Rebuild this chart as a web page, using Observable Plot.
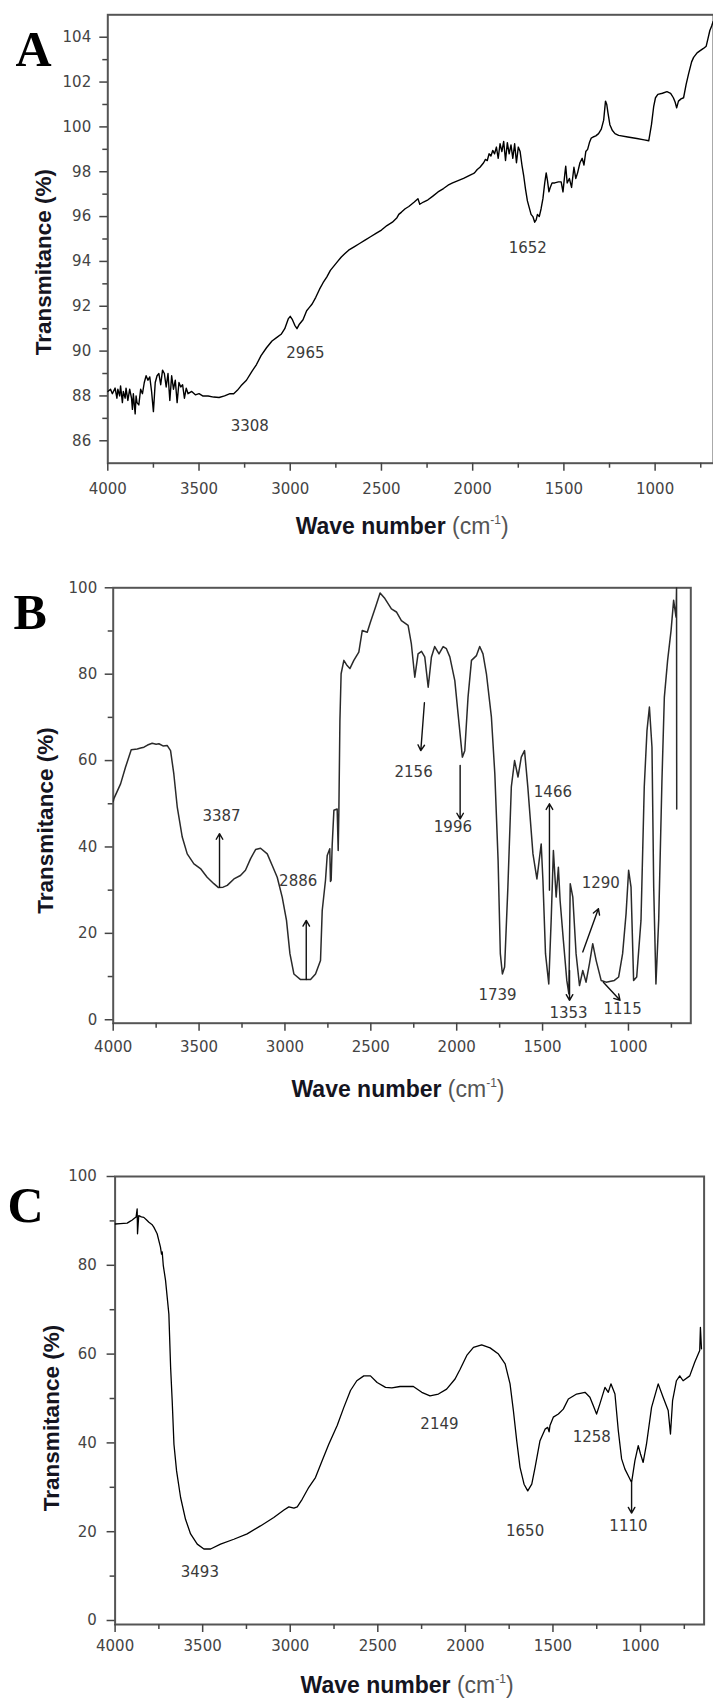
<!DOCTYPE html>
<html><head><meta charset="utf-8">
<script src="https://cdn.jsdelivr.net/npm/d3@7"></script>
<script src="https://cdn.jsdelivr.net/npm/@observablehq/plot@0.6"></script>
<style>
html,body{margin:0;padding:0;background:#fff;width:713px;height:1699px;overflow:hidden;}
#chart svg{display:block;}
</style></head><body><div id="chart"></div>
<script>
// ---------- Panel A ----------
const aWave = [4000,3985,3975,3960,3950,3945,3935,3930,3920,3915,3905,3900,3890,3880,3870,3865,3860,3850,3845,3840,3830,3820,3810,3800,3790,3780,3770,3760,3750,3740,3730,3720,3710,3700,3690,3680,3670,3660,3650,3640,3630,3620,3610,3600,3590,3580,3570,3560,3540,3520,3500,3480,3450,3420,3390,3360,3330,3310,3290,3270,3240,3210,3185,3160,3130,3100,3075,3050,3030,3010,3000,2988,2975,2963,2950,2930,2910,2895,2880,2860,2840,2820,2800,2780,2760,2740,2720,2700,2680,2650,2620,2590,2560,2530,2500,2470,2440,2415,2405,2390,2370,2350,2320,2300,2290,2270,2245,2220,2190,2160,2135,2110,2080,2050,2025,2000,1990,1975,1960,1950,1940,1930,1920,1910,1900,1890,1880,1870,1860,1850,1840,1830,1820,1810,1800,1790,1780,1770,1760,1750,1740,1730,1720,1710,1700,1690,1680,1670,1660,1652,1645,1635,1625,1615,1605,1597,1590,1582,1575,1565,1550,1530,1515,1505,1495,1490,1482,1470,1458,1445,1435,1425,1412,1400,1390,1380,1370,1360,1350,1340,1325,1310,1295,1282,1272,1265,1258,1248,1235,1220,1200,1150,1100,1060,1035,1020,1008,998,985,960,935,915,900,890,882,872,858,844,830,817,800,789,770,753,735,720,710,700,690,682];
const aTrans = [88.2,88.3,88.1,88.35,87.9,88.3,88.0,88.45,87.7,88.2,87.9,88.35,87.8,88.3,87.9,87.4,88.1,87.2,88.0,87.7,87.6,88.3,88.1,88.6,88.9,88.7,88.85,88.2,87.3,88.6,88.9,89.0,88.5,89.15,89.0,88.4,89.0,87.8,88.9,88.3,88.7,87.7,88.6,88.4,88.5,87.9,88.35,88.1,88.2,88.05,88.1,88.0,88.0,87.95,87.93,88.0,88.1,88.1,88.25,88.45,88.7,89.1,89.4,89.8,90.15,90.45,90.6,90.75,91.0,91.45,91.55,91.4,91.15,91.0,91.2,91.4,91.8,91.95,92.1,92.4,92.75,93.05,93.3,93.6,93.8,94.0,94.2,94.35,94.5,94.65,94.8,94.95,95.1,95.25,95.4,95.6,95.75,95.95,96.1,96.2,96.35,96.45,96.65,96.8,96.55,96.65,96.75,96.9,97.1,97.25,97.4,97.5,97.6,97.7,97.8,97.9,97.95,98.1,98.2,98.3,98.4,98.55,98.5,98.8,98.7,98.95,98.8,99.1,98.6,99.25,98.9,99.35,98.5,99.3,98.8,99.2,98.6,99.25,98.4,99.1,98.9,98.3,97.8,97.2,96.7,96.4,96.1,96.0,95.75,95.85,96.1,96.0,96.35,96.8,97.5,97.95,97.6,97.1,97.3,97.5,97.5,97.55,97.55,97.1,97.9,98.25,97.5,97.7,97.3,98.2,97.7,97.95,98.4,98.6,98.3,98.9,99.0,99.3,99.5,99.55,99.6,99.7,99.9,100.3,101.15,101.0,100.6,100.1,99.85,99.7,99.62,99.55,99.48,99.42,99.38,100.1,100.9,101.3,101.45,101.5,101.57,101.5,101.3,101.1,100.85,101.15,101.25,101.3,101.9,102.35,102.9,103.1,103.3,103.4,103.5,103.6,103.95,104.3,104.5,104.7];
const aPeakText = ["3308","2965","1652"];
const aPeakWave = [3222,2917,1698];
const aPeakTrans = [86.67,89.9,94.6];
const aYMajor = [86,88,90,92,94,96,98,100,102,104];
const aYMinor = [87,89,91,93,95,97,99,101,103];

// ---------- Panel B ----------
const bWave = [4000,3996,3957,3928,3895,3860,3840,3821,3800,3773,3750,3734,3710,3686,3666,3647,3627,3598,3569,3530,3492,3453,3414,3387,3360,3336,3297,3259,3230,3200,3171,3142,3103,3074,3045,3016,2991,2971,2948,2909,2851,2822,2793,2783,2764,2754,2739,2735,2731,2725,2715,2696,2690,2686,2680,2673,2657,2638,2622,2599,2570,2550,2521,2502,2473,2446,2418,2380,2351,2322,2283,2264,2244,2225,2205,2186,2166,2147,2128,2103,2079,2060,2040,2011,1992,1967,1953,1934,1914,1885,1866,1847,1827,1798,1778,1759,1746,1734,1721,1702,1682,1663,1643,1624,1605,1586,1556,1533,1508,1498,1483,1464,1450,1437,1421,1408,1398,1379,1359,1347,1339,1324,1305,1285,1266,1247,1227,1208,1188,1159,1130,1082,1057,1034,1014,999,985,970,952,927,908,892,878,863,853,840,824,805,791,772,752,737,723,720,719];
const bTrans = [50.5,51.2,54.6,58.5,62.5,62.7,62.9,63.1,63.6,64.0,63.8,63.9,63.4,63.5,62.3,56.9,49.2,42.3,38.4,36.1,35.0,33.0,31.5,30.6,30.7,31.1,32.6,33.4,34.6,37.3,39.4,39.7,38.4,35.7,33.0,28.4,23.0,15.3,10.6,9.3,9.3,10.6,13.7,25.3,32.3,38.0,39.6,32.0,32.3,40.4,48.5,48.8,39.2,48.5,69.3,80.1,83.2,82.0,81.3,83.2,85.1,90.1,89.7,92.1,95.5,98.8,97.5,95.1,94.4,92.4,91.3,87.0,79.3,84.7,85.3,84.0,77.0,84.0,86.4,84.7,86.4,85.9,84.0,78.5,70.8,60.8,62.3,74.7,83.2,84.3,86.4,84.7,80.1,70.1,56.9,36.9,15.3,10.6,12.2,30.7,53.9,60.0,56.2,60.8,62.3,53.9,38.4,32.6,40.7,32.3,15.3,8.3,23.0,39.2,28.4,35.3,27.6,18.4,9.1,6.0,31.5,28.4,15.3,7.9,11.4,8.7,13.0,17.6,13.7,9.1,8.7,9.1,9.9,15.3,24.5,34.6,30.7,9.1,9.9,23.0,53.9,67.0,72.4,63.1,30.7,8.3,23.0,55.4,74.7,83.2,90.1,97.1,93.2,100,48.8];
const bPeakText = ["3387","2886","2156","1996","1739","1466","1353","1290","1115"];
const bPeakWave = [3369,2923,2251,2022,1762,1440,1349,1161,1034];
const bPeakTrans = [47.2,32.0,57.3,44.6,5.6,52.7,1.5,31.6,2.5];
const bArrowW1 = [3381,2876,2188,1980,1460,1343,1266,1146];
const bArrowT1 = [30.7,9.3,73.4,58.9,30.0,11.4,15.7,8.7];
const bArrowW2 = [3381,2876,2209,1980,1460,1343,1175,1049];
const bArrowT2 = [43.1,23.0,62.3,46.5,50.0,4.5,25.7,4.5];

// ---------- Panel C ----------
const cWave = [4000,3970,3931,3915,3902,3890,3880,3874,3872,3865,3850,3836,3820,3807,3790,3779,3760,3741,3735,3731,3725,3712,3693,3683,3674,3664,3649,3626,3598,3569,3531,3493,3455,3398,3322,3246,3170,3094,3036,3008,2979,2960,2932,2894,2856,2818,2780,2732,2694,2656,2620,2580,2542,2504,2456,2420,2373,2297,2249,2202,2154,2107,2059,2030,1992,1954,1907,1859,1811,1773,1745,1726,1707,1688,1665,1644,1621,1602,1574,1545,1530,1522,1517,1498,1469,1441,1412,1365,1317,1289,1270,1251,1232,1203,1184,1169,1146,1127,1108,1089,1070,1051,1032,1013,1000,985,966,937,899,871,842,829,817,795,776,757,719,690,662,658,652];
const cTrans = [89.3,89.4,89.5,89.9,90.2,90.6,90.9,92.7,87.1,91.2,90.9,90.8,90.2,89.7,89.2,88.6,87.1,84.1,82.5,83.0,80.0,76.6,69.0,57.0,49.5,39.7,33.7,27.7,22.8,19.5,17.2,16.1,16.1,17.2,18.3,19.5,21.3,23.2,24.9,25.6,25.3,25.6,27.3,30.0,32.2,36.0,39.7,43.9,48.0,51.8,54.0,55.1,55.1,53.6,52.5,52.4,52.7,52.7,51.4,50.6,51.0,52.1,54.4,56.6,59.7,61.5,62.1,61.4,60.0,57.8,53.3,47.3,40.5,34.5,30.7,29.2,30.7,34.5,40.5,43.1,43.5,42.5,43.9,45.8,46.5,47.6,49.9,51.0,51.4,50.3,48.4,46.5,48.8,52.5,51.4,53.3,51.0,42.8,36.4,34.1,32.6,31.1,36.0,39.4,37.5,35.6,39.7,48.0,53.3,50.3,47.3,42.0,49.5,54.0,55.1,54.0,55.1,58.2,60.8,66.0,61.2];
const cPeakText = ["3493","2149","1650","1258","1110"];
const cPeakWave = [3516,2148,1659,1278,1069];
const cPeakTrans = [10.8,44.3,20.2,41.2,21.3];
const cArrowW1 = [1051];
const cArrowT1 = [31.0];
const cArrowW2 = [1051];
const cArrowT2 = [24.2];

// ---------- shared ticks ----------
const xMajor = [4000,3500,3000,2500,2000,1500,1000];
const xMinor = [3750,3250,2750,2250,1750,1250,750];
const pctMajor = [0,20,40,60,80,100];
const pctMinor = [10,30,50,70,90];
const yTitle = "Transmitance (%)";
const xTitleMain = "Wave number";
const xTitleUnit = "(cm";
const xTitleSup = "-1";
const panelLetters = ["A","B","C"];

function zipLine(w, t) { return w.map((d, i) => ({w: d, t: t[i]})); }
function zipText(s, w, t) { return s.map((d, i) => ({s: d, w: w[i], t: t[i]})); }
function zipArrow(w1, t1, w2, t2) { return w1.map((d, i) => ({w1: d, t1: t1[i], w2: w2[i], t2: t2[i]})); }

const plain = d => String(d);

function xTitleMark(dx, off) {
  return (index, scales, values, dims) => {
    const cx = dims.marginLeft + (dims.width - dims.marginLeft - dims.marginRight) / 2 + dx;
    const y = dims.height - dims.marginBottom + off;
    const t = d3.create("svg:text").attr("x", cx).attr("y", y)
      .attr("text-anchor", "middle").attr("font-family", "'Liberation Sans', Arial, sans-serif")
      .attr("font-size", 23);
    t.append("tspan").attr("font-weight", "bold").attr("fill", "#15151f").text(xTitleMain + " ");
    t.append("tspan").attr("fill", "#555").text(xTitleUnit);
    t.append("tspan").attr("fill", "#555").attr("font-size", 12).attr("dy", -10).text(xTitleSup);
    t.append("tspan").attr("fill", "#555").attr("dy", 10).text(")");
    return t.node();
  };
}

function panel(o) {
  const marks = [
    Plot.frame({stroke: "#555", strokeWidth: 2}),
    Plot.axisX({ticks: xMajor, tickFormat: plain, tickSize: 8, tickPadding: o.xPad, strokeWidth: 1.5, label: null}),
    Plot.axisX({ticks: xMinor, tickSize: 5, tickFormat: () => "", strokeWidth: 1.5, label: null}),
    Plot.axisY({ticks: o.yMajor, tickFormat: plain, tickSize: 8, tickPadding: o.yPad, strokeWidth: 1.5, label: null}),
    Plot.axisY({ticks: o.yMinor, tickSize: 5, tickFormat: () => "", strokeWidth: 1.5, label: null}),
    Plot.line(o.line, {x: "w", y: "t", stroke: o.lineColor, strokeWidth: o.lineWidth, clip: true}),
    Plot.text(o.peaks, {x: "w", y: "t", text: "s", fontFamily: "'DejaVu Sans', sans-serif", fontSize: 15, fill: "#3a3a3a", textAnchor: "middle", lineAnchor: "middle"}),
    Plot.text([yTitle], {frameAnchor: "left", dx: o.yLabDx, dy: o.yLabDy, rotate: -90, fontFamily: "'Liberation Sans', Arial, sans-serif", fontSize: 22.5, fontWeight: "bold", fill: "#15151f", textAnchor: "middle", lineAnchor: "middle"}),
    Plot.text([o.letter], {frameAnchor: "top-left", dx: o.letDx, dy: o.letDy, fontFamily: "'Liberation Serif', 'Times New Roman', serif", fontSize: 50, fontWeight: "bold", fill: "#000", textAnchor: "start", lineAnchor: "middle"}),
    xTitleMark(o.xLabDx, o.xLabOff)
  ];
  if (o.arrows) marks.push(Plot.arrow(o.arrows, {x1: "w1", y1: "t1", x2: "w2", y2: "t2", stroke: "#111", strokeWidth: 1.4, headLength: 7}));
  return Plot.plot({
    width: 713, height: o.height,
    marginTop: o.mt, marginBottom: o.mb, marginLeft: o.ml, marginRight: o.mr,
    x: {domain: o.xDomain},
    y: {domain: o.yDomain},
    style: {fontFamily: "'DejaVu Sans', sans-serif", fontSize: "15px", color: "#444", background: "#fff", overflow: "visible"},
    marks
  });
}

const root = document.getElementById("chart");
root.append(panel({
  height: 550, mt: 14.3, mb: 87.3, ml: 107.3, mr: 0,
  xDomain: [4000, 680], yDomain: [85, 105], yMajor: aYMajor, yMinor: aYMinor,
  line: zipLine(aWave, aTrans), lineColor: "#000", lineWidth: 1.4,
  peaks: zipText(aPeakText, aPeakWave, aPeakTrans),
  xPad: 12.6, yPad: 8.6, yLabDx: -64.3, yLabDy: 23.2,
  letter: panelLetters[0], letDx: -92.3, letDy: 34.7, xLabDx: -8, xLabOff: 71.6
}));
root.append(panel({
  height: 560, mt: 37.3, mb: 87.3, ml: 112.7, mr: 22.7,
  xDomain: [4000, 637], yDomain: [-0.8, 100], yMajor: pctMajor, yMinor: pctMinor,
  line: zipLine(bWave, bTrans), lineColor: "#2a2a2a", lineWidth: 1.5,
  peaks: zipText(bPeakText, bPeakWave, bPeakTrans),
  arrows: zipArrow(bArrowW1, bArrowT1, bArrowW2, bArrowT2),
  xPad: 10.4, yPad: 8, yLabDx: -67.7, yLabDy: 15,
  letter: panelLetters[1], letDx: -99.7, letDy: 25.2, xLabDx: -3.5, xLabOff: 73.8
}));
root.append(panel({
  height: 589, mt: 66, mb: 75, ml: 114.6, mr: 9.4,
  xDomain: [4000, 637], yDomain: [-0.9, 100], yMajor: pctMajor, yMinor: pctMinor,
  line: zipLine(cWave, cTrans), lineColor: "#000", lineWidth: 1.3,
  peaks: zipText(cPeakText, cPeakWave, cPeakTrans),
  arrows: zipArrow(cArrowW1, cArrowT1, cArrowW2, cArrowT2),
  xPad: 8, yPad: 10.3, yLabDx: -62.9, yLabDy: 17.5,
  letter: panelLetters[2], letDx: -107.6, letDy: 29, xLabDx: -2, xLabOff: 68.7
}));
</script></body></html>
